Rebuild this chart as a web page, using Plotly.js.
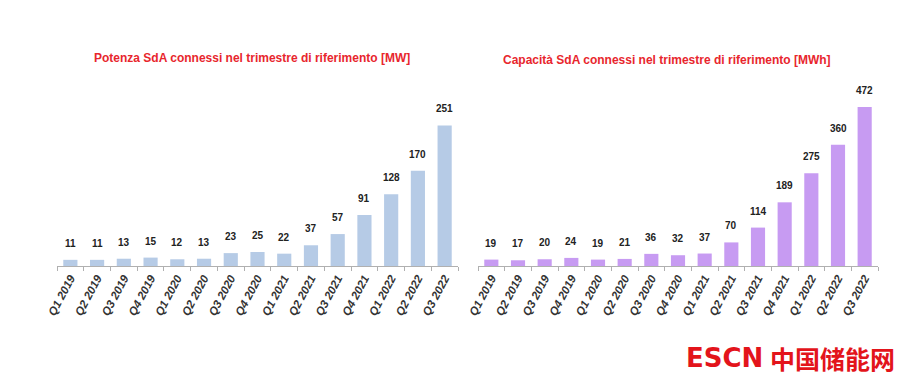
<!DOCTYPE html>
<html>
<head>
<meta charset="utf-8">
<script src="https://cdn.plot.ly/plotly-3.0.1.min.js"></script>
<style>html,body{margin:0;padding:0;background:#fff;}#chart{width:918px;height:388px;}</style>
</head>
<body>
<div id="chart"></div>
<script>
const quarters = ["Q1 2019","Q2 2019","Q3 2019","Q4 2019","Q1 2020","Q2 2020","Q3 2020","Q4 2020","Q1 2021","Q2 2021","Q3 2021","Q4 2021","Q1 2022","Q2 2022","Q3 2022"];
const powerMW = [11,11,13,15,12,13,23,25,22,37,57,91,128,170,251];
const capacityMWh = [19,17,20,24,19,21,36,32,37,70,114,189,275,360,472];
const titleLeft = "Potenza SdA connessi nel trimestre di riferimento [MW]";
const titleRight = "Capacità SdA connessi nel trimestre di riferimento [MWh]";
const watermarkLatin = "ESCN";
const watermarkCJK = "中国储能网";

const W = 918, H = 388;
const narrow = "Liberation Sans Narrow, Liberation Sans, sans-serif";

const traces = [
  {type: "bar", x: quarters, y: powerMW, xaxis: "x", yaxis: "y",
   marker: {color: "#b6cbe6"}, hoverinfo: "none"},
  {type: "bar", x: quarters, y: capacityMWh, xaxis: "x2", yaxis: "y2",
   marker: {color: "#c79bf2"}, hoverinfo: "none"}
];

const xCommon = {
  type: "category", showgrid: false, zeroline: false, showline: true, linecolor: "#b0b0b0", linewidth: 1,
  ticks: "outside", tickson: "boundaries", ticklen: 4, tickcolor: "#b0b0b0",
  tickangle: -62, tickfont: {family: narrow, size: 11.5, color: "#333", style: "italic", weight: "bold"},
  fixedrange: true
};
const yDom = [(H - 266) / H, (H - 80) / H];
const yCommon = {visible: false, showgrid: false, zeroline: false, domain: yDom, fixedrange: true};

const valueFont = {family: narrow, size: 10, color: "#222", weight: "bold"};
const valueLabels = [];
quarters.forEach((q, i) => {
  valueLabels.push({text: String(powerMW[i]), xref: "x", yref: "y", x: q, y: powerMW[i], yanchor: "bottom",
    yshift: 9, showarrow: false, font: valueFont});
  valueLabels.push({text: String(capacityMWh[i]), xref: "x2", yref: "y2", x: q, y: capacityMWh[i], yanchor: "bottom",
    yshift: 9, showarrow: false, font: valueFont});
});

const layout = {
  width: W, height: H, margin: {l: 0, r: 0, t: 0, b: 0},
  paper_bgcolor: "#fff", plot_bgcolor: "#fff", showlegend: false, bargap: 0.47,
  xaxis: Object.assign({}, xCommon, {domain: [57 / W, 458 / W], anchor: "y"}),
  xaxis2: Object.assign({}, xCommon, {domain: [478 / W, 878 / W], anchor: "y2"}),
  yaxis: Object.assign({}, yCommon, {range: [0, 332], anchor: "x"}),
  yaxis2: Object.assign({}, yCommon, {range: [0, 552], anchor: "x2"}),
  annotations: valueLabels.concat([
    {text: titleLeft, xref: "paper", yref: "paper", x: 252 / W, y: (H - 58) / H, showarrow: false,
     xanchor: "center", yanchor: "middle", font: {family: narrow, size: 12, color: "#e8262d", weight: "bold"}},
    {text: titleRight, xref: "paper", yref: "paper", x: 667 / W, y: (H - 60) / H, showarrow: false,
     xanchor: "center", yanchor: "middle", font: {family: narrow, size: 12, color: "#e8262d", weight: "bold"}},
    {text: watermarkLatin, xref: "paper", yref: "paper", x: 684 / W, y: (H - 358) / H, showarrow: false,
     xanchor: "left", yanchor: "middle", font: {family: "DejaVu Sans, sans-serif", size: 26, color: "#e3141b", weight: "bold"}},
    {text: watermarkCJK, xref: "paper", yref: "paper", x: 768 / W, y: (H - 358) / H, showarrow: false,
     xanchor: "left", yanchor: "middle", font: {family: "Noto Sans CJK SC, sans-serif", size: 25, color: "#e3141b", weight: "bold"}}
  ])
};

Plotly.newPlot("chart", traces, layout, {displayModeBar: false, staticPlot: true});
</script>
</body>
</html>
